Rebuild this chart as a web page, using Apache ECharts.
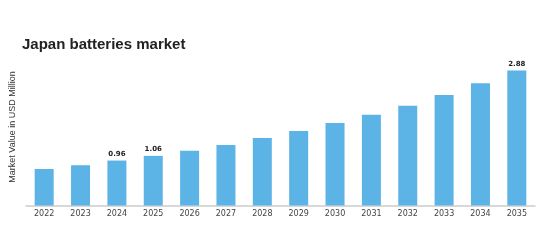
<!DOCTYPE html>
<html><head><meta charset="utf-8">
<script src="https://cdn.jsdelivr.net/npm/echarts@6/dist/echarts.min.js"></script>
<style>html,body{margin:0;padding:0;background:#fff}#c{width:556px;height:247px}</style>
</head><body><div id="c"></div>
<script>
const categories = ['2022','2023','2024','2025','2026','2027','2028','2029','2030','2031','2032','2033','2034','2035'];
const values = [0.78,0.86,0.96,1.06,1.17,1.29,1.44,1.59,1.76,1.94,2.13,2.36,2.61,2.88];
const labeledYears = ['2024','2025','2035'];
const chartTitle = 'Japan batteries market';
const yAxisTitle = 'Market Value in USD Million';

const chart = echarts.init(document.getElementById('c'), null, {renderer:'canvas'});
chart.setOption({
  animation:false,
  backgroundColor:'#fff',
  title:{text:chartTitle,left:17,top:32,textStyle:{fontFamily:'Liberation Sans',fontWeight:'bold',fontSize:15,color:'#222'}},
  graphic:[{type:'text',x:13,y:127,rotation:Math.PI/2,style:{text:yAxisTitle,fontFamily:'Liberation Sans',fontSize:9,fill:'#333',textAlign:'center',textVerticalAlign:'middle'}}],
  grid:{left:26,right:21,top:65,bottom:41.5},
  xAxis:{type:'category',data:categories,
    axisLine:{lineStyle:{color:'#ccc',width:1.5}},axisTick:{show:false},
    axisLabel:{fontFamily:'DejaVu Sans',fontSize:8,color:'#444',margin:4}},
  yAxis:{type:'value',min:0,max:3,show:false,splitLine:{show:false}},
  series:[{type:'bar',data:values.map((v,i)=>({value:v,label:{show:labeledYears.includes(categories[i])}})),
    barWidth:19,itemStyle:{color:'#5cb3e6'},
    label:{position:'top',distance:3,formatter:p=>p.value.toFixed(2),fontFamily:'DejaVu Sans',fontWeight:'bold',fontSize:7,color:'#222'}}]
});
</script></body></html>
